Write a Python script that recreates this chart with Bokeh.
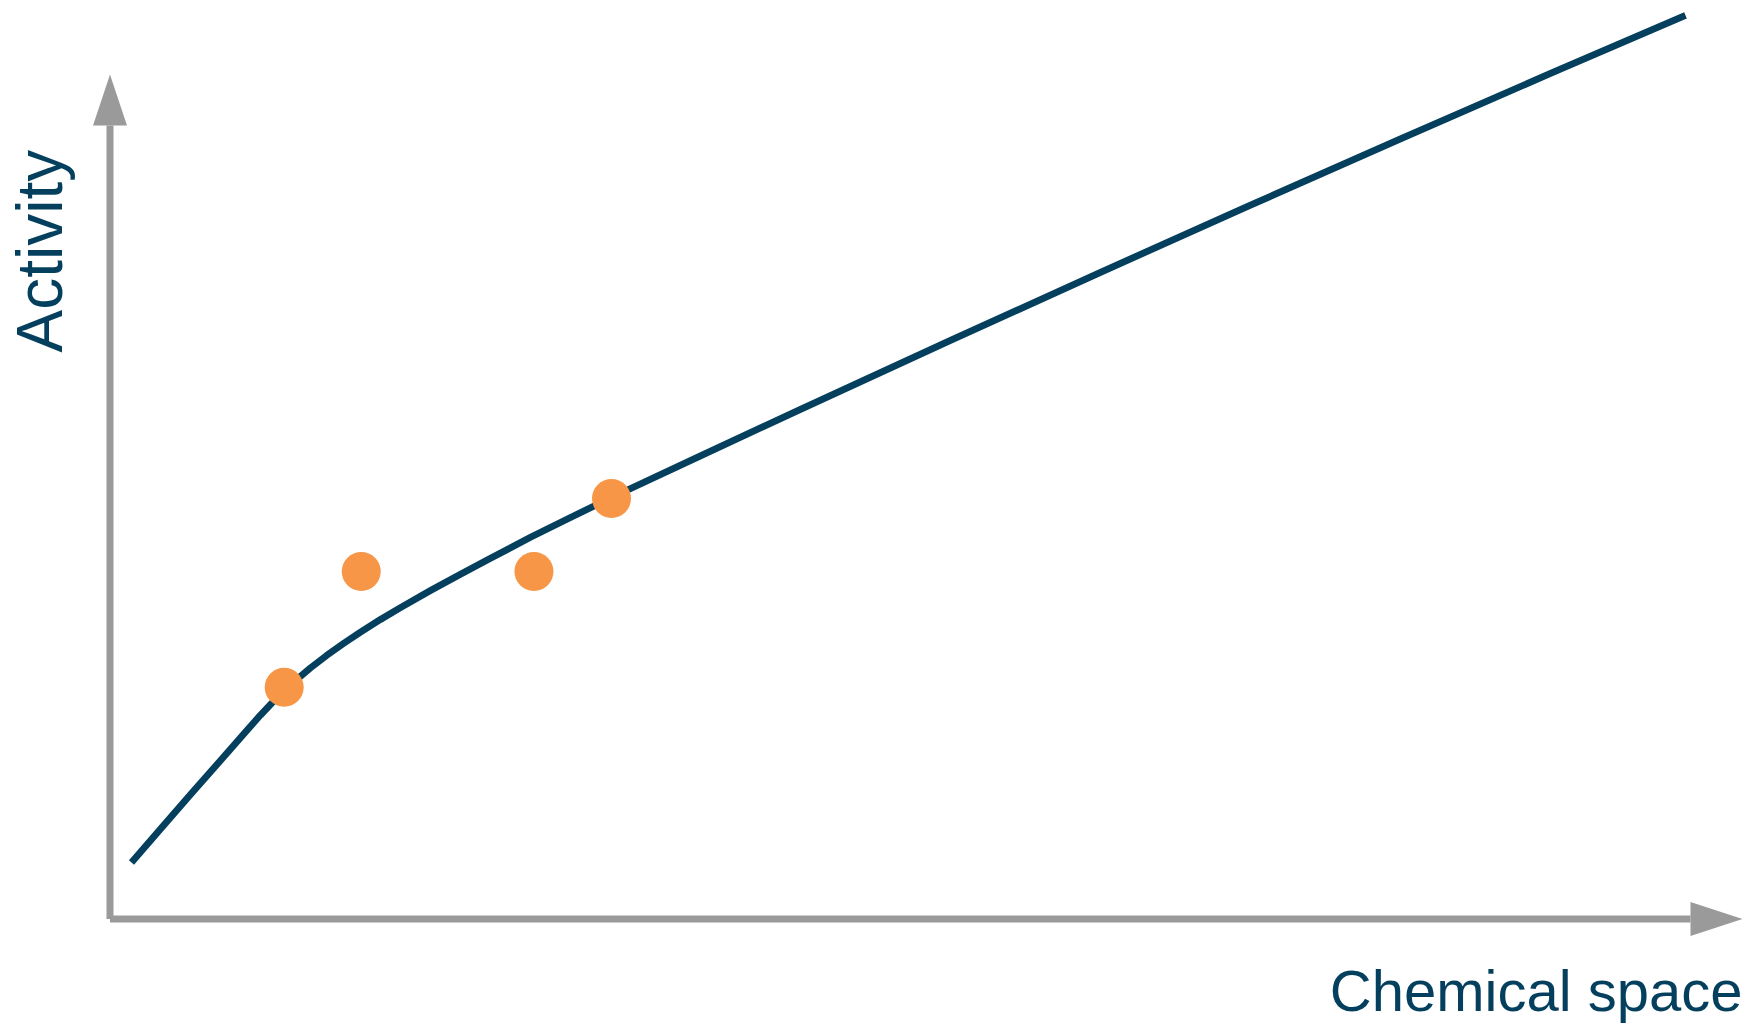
import math
from bokeh.plotting import figure
from bokeh.models import Range1d, Label
from bokeh.embed import file_html
from bokeh.resources import INLINE

# ---- data (chart units: axis origin = 0, arrow tips = 100) ----
curve_x = [1.317, 3.093, 4.931, 6.769, 8.300, 9.219, 9.954, 10.671, 11.485,
           12.282, 13.262, 14.322, 15.345, 16.570, 17.795, 19.632, 21.470,
           23.308, 25.758, 28.208, 30.720, 36.171, 42.297, 51.485, 60.674,
           69.862, 79.051, 88.239, 96.508]
curve_y = [6.690, 10.657, 14.742, 18.769, 22.143, 24.144, 25.660, 27.022, 28.443,
           29.734, 31.190, 32.647, 33.973, 35.465, 36.874, 38.899, 40.829,
           42.712, 45.198, 47.543, 49.911, 54.849, 60.344, 68.514, 76.578,
           84.523, 92.386, 100.130, 107.010]
point_x = [10.67, 15.39, 25.97, 30.72]
point_y = [27.45, 41.15, 41.15, 49.79]
x_label = "Chemical space"
y_label = "Activity"

# ---- layout ----
W, H = 1752, 1023
ox, oy = 109.5, 918.5          # axis origin in canvas px
px_x = 16.325                  # px per x unit
px_y = 8.445                   # px per y unit
x0 = -ox / px_x
x1 = x0 + W / px_x
y1 = oy / px_y
y0 = y1 - H / px_y

LINE = "#053F5E"
GREY = "#9A9A9A"
ORANGE = "#F79646"

p = figure(width=W, height=H, x_range=Range1d(x0, x1), y_range=Range1d(y0, y1),
           x_axis_location=None, y_axis_location=None, toolbar_location=None,
           output_backend="svg", min_border=0)
p.grid.visible = False
p.outline_line_color = None
p.background_fill_color = "white"
p.border_fill_color = "white"

# axes with arrow heads
head_len_x = 52 / px_x
head_len_y = 51 / px_y
half_w_x = 17 / px_x   # half-width of the vertical axis' head, in x units
half_w_y = 17 / px_y   # half-height of the horizontal axis' head, in y units
p.segment(x0=[0, 0], y0=[0, 0], x1=[0, 100 - head_len_x], y1=[100 - head_len_y, 0],
          line_color=GREY, line_width=7, line_cap="butt")
p.patches(xs=[[0, -half_w_x, half_w_x], [100, 100 - head_len_x, 100 - head_len_x]],
          ys=[[100, 100 - head_len_y, 100 - head_len_y], [0, half_w_y, -half_w_y]],
          fill_color=GREY, line_color=None)

# curve and points
p.line(curve_x, curve_y, line_color=LINE, line_width=6.8, line_cap="butt", line_join="round")
p.scatter(point_x, point_y, size=39, fill_color=ORANGE, line_color=None)

# labels
p.add_layout(Label(x=100, y=-71.5 / px_y, text=x_label, text_align="right",
                   text_baseline="alphabetic", text_font="Liberation Sans",
                   text_font_size="58px", text_color=LINE))
p.add_layout(Label(x=-70.5 / px_x, y=566.5 / px_y, text=y_label, angle=math.pi / 2,
                   text_align="left", text_baseline="alphabetic",
                   text_font="Liberation Sans", text_font_size="64px", text_color=LINE))

open("out.html", "w").write(file_html(p, INLINE))
